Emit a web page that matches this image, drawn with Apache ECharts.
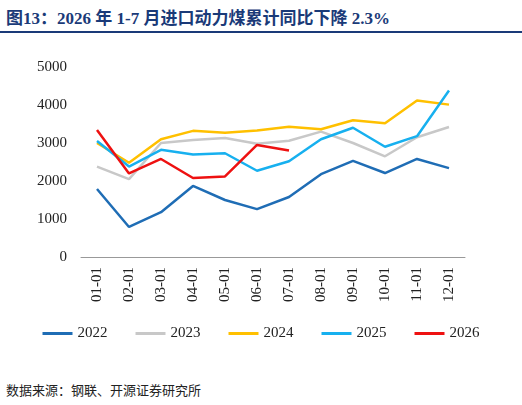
<!DOCTYPE html>
<html>
<head>
<meta charset="UTF-8">
<script src="https://cdn.jsdelivr.net/npm/echarts@6/dist/echarts.min.js"></script>
<style>
  * { margin: 0; padding: 0; }
  body { width: 522px; height: 405px; background: #fff; position: relative; font-family: "Liberation Serif", "Noto Sans CJK SC", serif; }
  .title { position: absolute; left: 6px; top: 4px; font-size: 17px; font-weight: bold; color: #1a3a78; font-family: "Liberation Serif", "Noto Sans CJK SC", serif; }
  .rule { position: absolute; left: 0; right: 0; top: 31px; border-top: 2px solid #1a3a78; }
  .src { position: absolute; left: 6px; top: 380px; font-size: 13px; color: #222; font-family: "Noto Sans CJK SC", sans-serif; }
  #chart { position: absolute; left: 0; top: 32px; width: 522px; height: 340px; }
</style>
</head>
<body>
<div class="title">图13：2026 年 1-7 月进口动力煤累计同比下降 2.3%</div>
<div class="rule"></div>
<div id="chart"></div>
<div class="src">数据来源：钢联、开源证券研究所</div>
<script>
// 月份
const months = ['01-01','02-01','03-01','04-01','05-01','06-01','07-01','08-01','09-01','10-01','11-01','12-01'];
// 各年数据
const y2022 = [1790, 790, 1180, 1870, 1500, 1260, 1580, 2180, 2530, 2210, 2580, 2340];
const y2023 = [2380, 2050, 3000, 3080, 3130, 2980, 3060, 3300, 3000, 2650, 3150, 3420];
const y2024 = [3000, 2480, 3100, 3320, 3270, 3330, 3430, 3360, 3600, 3520, 4120, 4010];
const y2025 = [3050, 2380, 2820, 2700, 2730, 2270, 2520, 3100, 3400, 2900, 3180, 4380];
const y2026 = [3340, 2200, 2580, 2080, 2120, 2950, 2800];

const names = ['2022','2023','2024','2025','2026'];
const colors = ['#1f6db5','#c8c8c8','#ffc000','#17b0ef','#ee1111'];
const data = [y2022, y2023, y2024, y2025, y2026];

const chart = echarts.init(document.getElementById('chart'));
chart.setOption({
  color: colors,
  textStyle: { fontFamily: 'Liberation Serif' },
  grid: { left: 81, right: 57, top: 35, bottom: 115 },
  legend: {
    bottom: 26, left: 'center', itemWidth: 30, itemHeight: 3, itemGap: 28,
    icon: 'rect', textStyle: { fontSize: 15, color: '#222' }
  },
  xAxis: {
    type: 'category', data: months, boundaryGap: true,
    axisLine: { lineStyle: { color: '#999' } },
    axisTick: { show: false },
    axisLabel: { rotate: 90, fontSize: 15, color: '#222', margin: 10 }
  },
  yAxis: {
    type: 'value', min: 0, max: 5000, interval: 1000,
    splitLine: { show: false },
    axisLine: { show: false },
    axisLabel: { fontSize: 15, color: '#222', margin: 14, formatter: v => String(v) }
  },
  series: names.map((n, i) => ({
    name: n, type: 'line', data: data[i], symbol: 'none',
    lineStyle: { width: 2.5 }
  }))
});
</script>
</body>
</html>
